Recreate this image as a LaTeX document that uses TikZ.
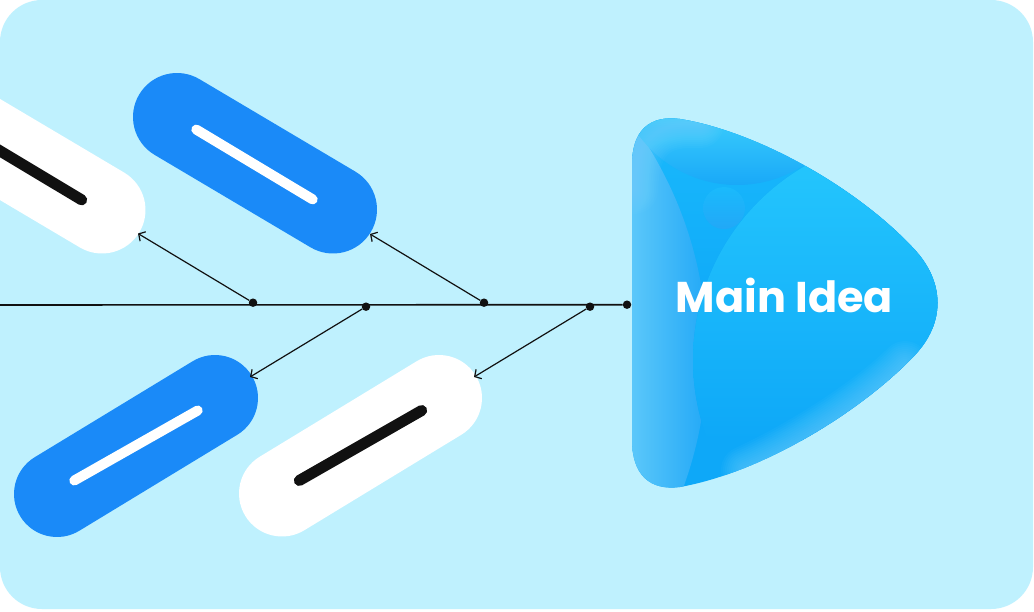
\documentclass[tikz,border=0pt]{standalone}
\usepackage{fontspec}
\newfontfamily\pop{Poppins}
\usetikzlibrary{arrows.meta}
\definecolor{bg}{RGB}{191,241,254}
\definecolor{pillblue}{RGB}{26,138,248}
\definecolor{ink}{RGB}{17,17,17}
\definecolor{mainbase}{RGB}{14,168,248}
\definecolor{leftlight}{RGB}{92,200,250}
\definecolor{leftdark}{RGB}{34,168,247}
\definecolor{circtop}{RGB}{38,200,253}
\definecolor{circmid}{RGB}{26,186,252}
\definecolor{captop}{RGB}{62,208,252}
\definecolor{capbot}{RGB}{24,168,248}
\definecolor{glow}{RGB}{130,218,250}
\tikzset{
  pill/.style={line width=87pt, line cap=round},
  bar/.style={line width=10pt, line cap=round},
  dot/.style={circle, fill=ink, inner sep=0pt, minimum size=8.5pt},
  arr/.style={draw=ink, line width=1.2pt, -{Straight Barb[length=5pt,width=11pt]}},
  mainline/.style={draw=ink, line width=1.6pt},
}
\begin{document}
\begin{tikzpicture}[x=1pt,y=-1pt]
\useasboundingbox (0,0) rectangle (1034,612);
\fill[white] (0,0) rectangle (1034,612);
\fill[bg, rounded corners=42pt] (0,0) rectangle (1033,609);

% pills
\begin{scope}
\clip (0,0) rectangle (1034,612);
\draw[pill, white] (-54,117.5) -- (102,210);
\draw[bar, ink, line width=11pt] (-34.7,130.1) -- (81.7,199.9);
\draw[pill, pillblue, line width=88pt] (177,117) -- (333,209.5);
\draw[bar, white] (196.3,129.6) -- (312.7,199.4);
\draw[pill, pillblue, line width=86pt] (57,494) -- (215,398);
\draw[bar, white] (74.3,480.5) -- (197.7,410.5);
\draw[pill, white, line width=86pt] (282,493.5) -- (439,398);
\draw[bar, ink, line width=11pt] (299.3,480.5) -- (421.7,410.5);
\end{scope}

% main idea shape
\begin{scope}
\clip (632,440) -- (632,165) .. controls (632,130) and (650,115) .. (680,119)
  .. controls (760,132) and (860,190) .. (915,250)
  .. controls (945,283) and (945,323) .. (915,355)
  .. controls (860,413) and (760,473) .. (680,487)
  .. controls (650,491) and (632,475) .. (632,440) -- cycle;
\fill[mainbase] (620,100) rectangle (960,500);
\shade[top color=circmid, bottom color=mainbase] (620,110) rectangle (960,330);
% left strip
\begin{scope}
\clip (315,353) circle (392pt);
\shade[left color=leftlight, right color=leftdark] (630,100) rectangle (708,500);
\end{scope}
% big circle
\begin{scope}
\clip (917,360) circle (224pt);
\fill[mainbase] (680,130) rectangle (960,600);
\shade[top color=circtop, middle color=circmid, bottom color=mainbase] (680,136) rectangle (960,440);
\end{scope}
% top cap
\begin{scope}
\clip (737,63) circle (122pt);
\shade[top color=captop, bottom color=capbot] (630,110) rectangle (870,186);
\end{scope}
\shade[top color=circmid, bottom color=leftdark] (724,208) circle (21pt);
\foreach \w in {48,44,...,4}{
  \draw[glow, line width=\w pt, opacity=0.05, line cap=round]
    (905,365) .. controls (870,400) and (800,445) .. (745,470);
  \draw[glow, line width=\w pt, opacity=0.05, line cap=round]
    (634,190) .. controls (636,140) and (655,122) .. (700,124);
}
\end{scope}
\node[text=white, font=\pop\bfseries\fontsize{43}{43}\selectfont, anchor=base, inner sep=0pt] (main) at (784.5,313) {Main Idea};

% fishbone
\coordinate (L) at (0,305);
\node[dot] (d1) at (253,302.7) {};
\node[dot] (d2) at (366,306.7) {};
\node[dot] (d3) at (484,302.7) {};
\node[dot] (d4) at (590,306.7) {};
\node[dot] (d5) at (627,304.7) {};
\draw[mainline] (L) -- (d5);
\coordinate (t1) at (138,233.5);
\coordinate (t2) at (370,234);
\coordinate (t3) at (250,377);
\coordinate (t4) at (474,377);
\draw[arr] (d1) -- (t1);
\draw[arr] (d3) -- (t2);
\draw[arr] (d2) -- (t3);
\draw[arr] (d4) -- (t4);
\end{tikzpicture}
\end{document}
